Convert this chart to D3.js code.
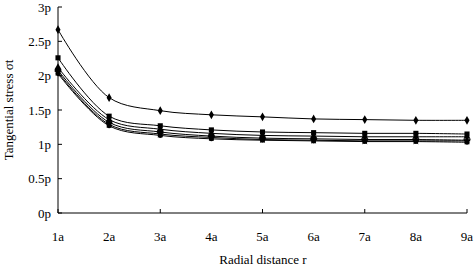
<!DOCTYPE html>
<html><head><meta charset="utf-8">
<script src="https://cdn.jsdelivr.net/npm/d3@7"></script>
<style>body{margin:0;background:#fff}text{font-family:"Liberation Serif","Times New Roman",serif;fill:#000}</style>
</head><body><svg id="c" width="475" height="269"></svg>
<script>
const categories = ["1a","2a","3a","4a","5a","6a","7a","8a","9a"];
const yTicks = [0,0.5,1,1.5,2,2.5,3];
const yTickLabels = ["0p","0.5p","1p","1.5p","2p","2.5p","3p"];
const s1 = [2.67,1.68,1.49,1.43,1.40,1.37,1.36,1.35,1.35];
const s2 = [2.26,1.41,1.27,1.21,1.18,1.17,1.16,1.16,1.15];
const s3 = [2.12,1.36,1.22,1.16,1.13,1.12,1.11,1.11,1.11];
const s4 = [2.08,1.32,1.18,1.12,1.09,1.08,1.07,1.07,1.06];
const s5 = [2.05,1.29,1.15,1.10,1.07,1.06,1.05,1.05,1.05];
const s6 = [2.03,1.27,1.13,1.08,1.06,1.05,1.04,1.04,1.03];
const series = [
  {v:s1, m:d3.symbolDiamond, size:22},
  {v:s2, m:d3.symbolSquare, size:26},
  {v:s3, m:d3.symbolTriangle, size:22},
  {v:s4, m:d3.symbolCross, size:22},
  {v:s5, m:d3.symbolStar, size:22},
  {v:s6, m:d3.symbolCircle, size:20}
];
const svg = d3.select("#c");
const x = d3.scalePoint().domain(categories).range([58,467]);
const y = d3.scaleLinear().domain([0,3]).range([213,7]);

const g = svg.append("g");
g.append("line").attr("x1",58).attr("x2",58).attr("y1",y(3)).attr("y2",y(0)).attr("stroke","#000");
yTicks.forEach((t,i)=>{
  g.append("line").attr("x1",58).attr("x2",62).attr("y1",y(t)).attr("y2",y(t)).attr("stroke","#000");
  g.append("text").attr("x",51).attr("y",y(t)).attr("dy","0.35em").attr("text-anchor","end").attr("font-size",13).text(yTickLabels[i]);
});
g.append("line").attr("x1",58).attr("x2",467).attr("y1",213).attr("y2",213).attr("stroke","#000");
categories.forEach((c,i)=>{
  if(i%2===0) g.append("line").attr("x1",x(c)).attr("x2",x(c)).attr("y1",213).attr("y2",209).attr("stroke","#000");
  g.append("text").attr("x",x(c)).attr("y",241).attr("text-anchor","middle").attr("font-size",13).text(c);
});
g.append("text").attr("x",263).attr("y",264).attr("text-anchor","middle").attr("font-size",13).text("Radial distance r");
g.append("text").attr("transform","translate(13,110) rotate(-90)").attr("text-anchor","middle").attr("font-size",13).text("Tangential stress σt");

const line = d3.line().x((d,i)=>x(categories[i])).y(d=>y(d)).curve(d3.curveCatmullRom.alpha(0.5));
series.forEach(s=>{
  svg.append("path").attr("d",line(s.v)).attr("fill","none").attr("stroke","#000").attr("stroke-width",1);
});
series.forEach(s=>{
  svg.selectAll(null).data(s.v).enter().append("path")
    .attr("transform",(d,i)=>`translate(${x(categories[i])},${y(d)})`)
    .attr("d",d3.symbol().type(s.m).size(s.size)).attr("fill","#000");
});
</script></body></html>
